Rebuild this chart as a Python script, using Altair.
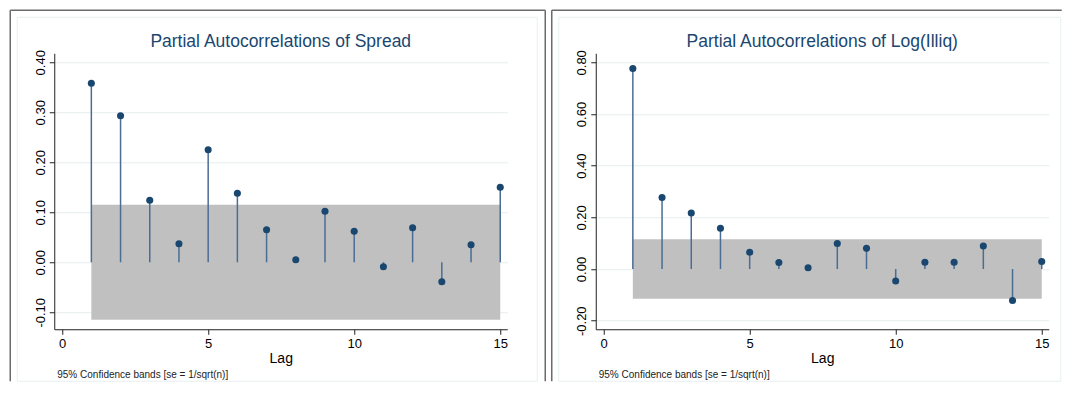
import altair as alt
import pandas as pd

lags = list(range(1, 16))
pac_spread = [0.358, 0.293, 0.124, 0.037, 0.225, 0.138, 0.065, 0.005, 0.102, 0.062,
              -0.009, 0.069, -0.039, 0.035, 0.150]
pac_illiq = [0.776, 0.277, 0.217, 0.158, 0.065, 0.025, 0.005, 0.099, 0.080, -0.046,
             0.026, 0.026, 0.089, -0.122, 0.029]
band_spread = [0.115] * 15
band_illiq = [0.115] * 15

titles = ["Partial Autocorrelations of Spread", "Partial Autocorrelations of Log(Illiq)"]
yticks_spread = [-0.1, 0.0, 0.1, 0.2, 0.3, 0.4]
yticks_illiq = [-0.2, 0.0, 0.2, 0.4, 0.6, 0.8]
xticks = [0, 5, 10, 15]
note = "95% Confidence bands [se = 1/sqrt(n)]"
x_title = "Lag"

FONT = "Liberation Sans"
NAVY = "#1a476f"
W, H = 453, 276
BOTTOM = 326  # frame extent below plot top (kept inside the 399px window)


def panel(title, vals, band, ydom, yticks, top_rule_end, right_rule):
    df = pd.DataFrame({"lag": lags, "pac": vals, "zero": [0.0] * 15,
                       "lo": [-b for b in band], "hi": band})
    base = alt.Chart(df)
    xs = alt.Scale(domain=[-0.27, 15.24], nice=False, zero=False)
    ys = alt.Scale(domain=ydom, nice=False, zero=False)
    xax = alt.Axis(values=xticks, format="d", title=x_title, grid=False,
                   labelFontSize=13, labelFont=FONT, labelColor="#000",
                   titleFont=FONT, titleFontSize=14, titleFontWeight="normal",
                   titleColor="#000", titlePadding=1, labelPadding=3,
                   tickSize=5, tickColor="#222", domainColor="#222")
    yax = alt.Axis(values=yticks, title=None, grid=True, gridColor="#e6eef0",
                   labelExpr="replace(format(datum.value, '.2f'), '\u2212', '-')",
                   labelAngle=270, labelAlign="center", labelBaseline="alphabetic",
                   labelFontSize=13, labelFont=FONT, labelColor="#000",
                   labelPadding=5, tickSize=5, tickColor="#222", domainColor="#222")

    area = base.mark_area(color="#c0c0c0", opacity=1).encode(
        x=alt.X("lag:Q", scale=xs, axis=xax),
        y=alt.Y("lo:Q", scale=ys, axis=yax),
        y2="hi:Q",
    )
    stems = base.mark_rule(color="#4a6d95", strokeWidth=1.5).encode(
        x="lag:Q", y="zero:Q", y2="pac:Q"
    )
    dots = base.mark_circle(color=NAVY, size=50, opacity=1).encode(
        x="lag:Q", y="pac:Q"
    )
    one = alt.Data(values=[{"k": 1}])
    inner_right = top_rule_end - 8 if right_rule else top_rule_end - 1
    inner = alt.Chart(one).mark_rect(fill="transparent", stroke="#e8f0f2", strokeWidth=1).encode(
        x=alt.value(-37), x2=alt.value(inner_right),
        y=alt.value(-36), y2=alt.value(BOTTOM + 2),
    )
    fl = alt.Chart(one).mark_rule(color="#6b6b6b", strokeWidth=1.5).encode(
        x=alt.value(-44), y=alt.value(-43), y2=alt.value(BOTTOM + 2))
    ft = alt.Chart(one).mark_rule(color="#6b6b6b", strokeWidth=1.5).encode(
        x=alt.value(-44), x2=alt.value(top_rule_end), y=alt.value(-43))
    layers = [inner, area, stems, dots, fl, ft]
    if right_rule:
        fr = alt.Chart(one).mark_rule(color="#6b6b6b", strokeWidth=1.5).encode(
            x=alt.value(top_rule_end), y=alt.value(-43), y2=alt.value(BOTTOM + 2))
        layers.append(fr)
    ttl = alt.Chart(one).mark_text(align="center", baseline="alphabetic", fontSize=17.5,
                                   font=FONT, color=NAVY).encode(
        x=alt.value(W / 2), y=alt.value(-6.3), text=alt.value(title))
    txt = alt.Chart(one).mark_text(align="left", baseline="alphabetic", fontSize=10,
                                   font=FONT, color="#222").encode(
        x=alt.value(3), y=alt.value(324.5), text=alt.value(note))
    layers += [ttl, txt]
    return alt.layer(*layers).properties(width=W, height=H)


left = panel(titles[0], pac_spread, band_spread, [-0.134, 0.418], yticks_spread, 491, True)
right = panel(titles[1], pac_illiq, band_illiq, [-0.233, 0.835], yticks_illiq, 466, False)

chart = alt.hconcat(left, right, spacing=4.5).properties(
    padding={"left": 1.25, "top": 1.25, "right": 0, "bottom": 0}
).configure_view(stroke=None)

chart.save("out.html", embed_options={"renderer": "svg", "actions": False})
